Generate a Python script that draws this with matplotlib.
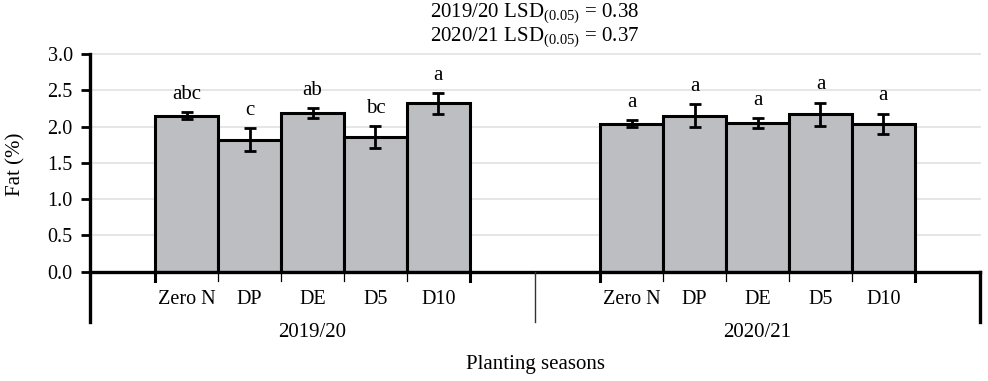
import numpy as np
import matplotlib
matplotlib.use("Agg")
import matplotlib.pyplot as plt

plt.rcParams['font.family'] = ['Liberation Serif', 'DejaVu Serif']
plt.rcParams['mathtext.fontset'] = 'custom'
plt.rcParams['mathtext.rm'] = 'Liberation Serif'

# data
seasons = ['2019/20', '2020/21']
treatments = ['Zero N', 'DP', 'DE', 'D5', 'D10']
fat_1920 = [2.15, 1.82, 2.19, 1.86, 2.32]
err_1920 = [0.05, 0.16, 0.07, 0.15, 0.14]
let_1920 = ['abc', 'c', 'ab', 'bc', 'a']
fat_2021 = [2.04, 2.15, 2.05, 2.17, 2.04]
err_2021 = [0.05, 0.16, 0.07, 0.16, 0.14]
let_2021 = ['a', 'a', 'a', 'a', 'a']
lsd = [0.38, 0.37]

means = [fat_1920, fat_2021]
errs = [err_1920, err_2021]
letters = [let_1920, let_2021]

W = 7.07  # width of one season block, in bar widths
fig = plt.figure(figsize=(9.88, 3.81), dpi=100)
ax = fig.add_axes([90/988, 1 - 271.7/381, 890/988, 217.7/381])

bar_col = '#bdbec1'
ybot = -0.231  # how far the frame lines drop below the x axis (axes coords)
xt = ax.get_xaxis_transform()

# light grid
for g in np.arange(0.5, 3.01, 0.5):
    ax.plot([0, 2*W], [g, g], color='#e4e4e4', lw=1.3, zorder=0, clip_on=False)

centers = []
for s in range(2):
    gc = W*s + W/2
    xs = gc + np.arange(5) - 2
    centers += list(xs)
    ax.bar(xs, means[s], width=1.0, color=bar_col, edgecolor='black', linewidth=2.2, zorder=2)
    ax.errorbar(xs, means[s], yerr=errs[s], fmt='none', ecolor='black',
                elinewidth=2.0, capsize=4.5, capthick=2.0, zorder=3)
    for x, m, e, lab in zip(xs, means[s], errs[s], letters[s]):
        ax.annotate(lab, (x, m + e), xytext=(0, 9.5), textcoords='offset points',
                    ha='center', va='baseline', fontsize=15)
    # ticks at the bar edges
    for k, b in enumerate(gc + np.arange(6) - 2.5):
        lw = 2.2 if k in (0, 5) else 0.9
        ax.plot([b, b], [0, -0.042], transform=xt, color='black', lw=lw, clip_on=False, zorder=4)
    ax.text(gc, -0.277, seasons[s], transform=xt, ha='center', va='center', fontsize=15)

# frame lines
ax.plot([0, 2*W], [0, 0], transform=xt, color='black', lw=2.4, clip_on=False, zorder=5)
ax.plot([0, 0], [1, ybot], transform=xt, color='black', lw=2.4, clip_on=False, zorder=5)
ax.plot([2*W, 2*W], [0, ybot], transform=xt, color='black', lw=2.4, clip_on=False, zorder=5)
ax.plot([W, W], [0, ybot], transform=xt, color='#333333', lw=1.0, clip_on=False, zorder=5)

for sp in ax.spines.values():
    sp.set_visible(False)

ax.set_xlim(0, 2*W)
ax.set_ylim(0, 3.0)
ax.set_yticks(np.arange(0, 3.01, 0.5))
ax.set_yticklabels(['%.1f' % v for v in np.arange(0, 3.01, 0.5)], fontsize=14.5)
ax.tick_params(axis='y', length=6.5, width=2, direction='out', pad=6)
ax.set_xticks(centers)
ax.set_xticklabels(treatments * 2, fontsize=14.5)
ax.tick_params(axis='x', length=0, pad=13)

fig.text(16/988, 1 - 164/381, 'Fat (%)', rotation=90, ha='center', va='center', fontsize=15)
fig.text(535/988, 1 - 364/381, 'Planting seasons', ha='center', va='center', fontsize=15)
fig.text(535/988, 1 - 14/381, '%s LSD$_{\\mathrm{(0.05)}}$ = %.2f' % (seasons[0], lsd[0]),
         ha='center', va='center', fontsize=15)
fig.text(535/988, 1 - 38/381, '%s LSD$_{\\mathrm{(0.05)}}$ = %.2f' % (seasons[1], lsd[1]),
         ha='center', va='center', fontsize=15)

fig.savefig('out.png', dpi=100)
